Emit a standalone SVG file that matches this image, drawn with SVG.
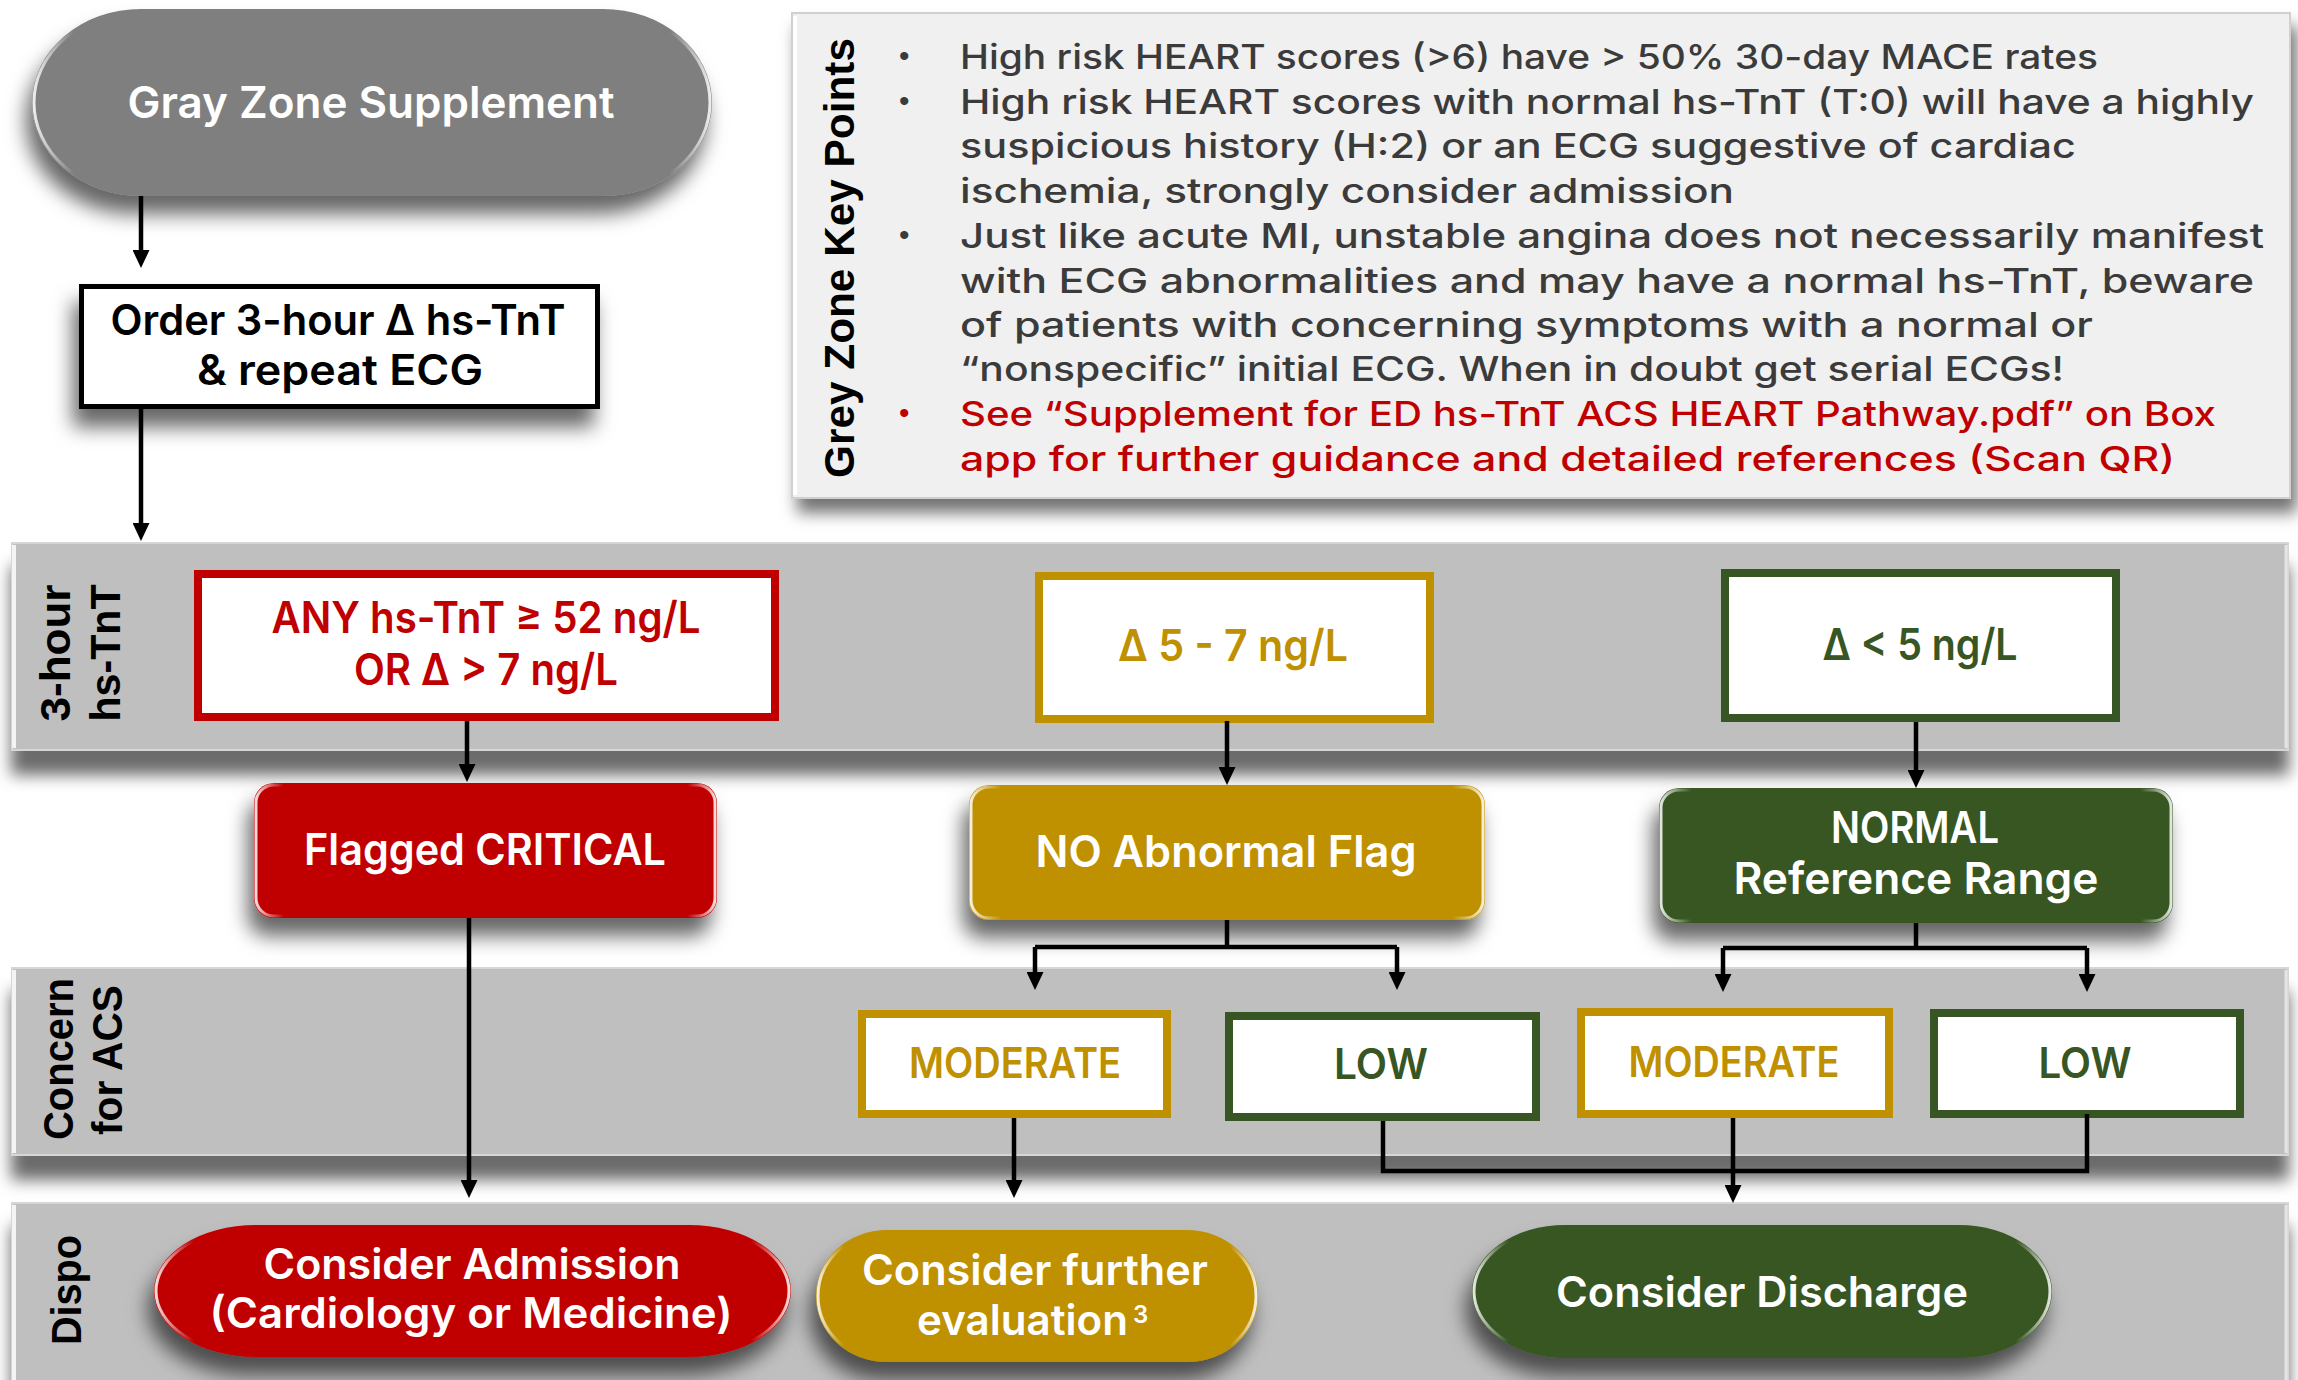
<svg xmlns="http://www.w3.org/2000/svg" width="2298" height="1380" viewBox="0 0 2298 1380">
<style>
.lbl{font-family:Inter,"Open Sans","Liberation Sans",sans-serif;font-weight:600;text-anchor:middle}
.w{fill:#ffffff}
.tr{fill:#c00000}
.tg{fill:#bf9000}
.tn{fill:#375623}
.tk{fill:#000000}
.side{font-family:"Liberation Sans",Arial,sans-serif;font-weight:700;font-size:42px;fill:#000;text-anchor:middle}
.bul{font-family:Inter,"Open Sans","Liberation Sans",sans-serif;font-size:34px;font-weight:500;fill:#3b3b3b}
.bulr{font-family:Inter,"Open Sans","Liberation Sans",sans-serif;font-size:34px;font-weight:500;fill:#c00000}
.dot{font-family:"Liberation Sans",Arial,sans-serif;font-size:30px}
.band{fill:#bfbfbf;stroke:#d6d6d6;stroke-width:2}
.bx{fill:#ffffff;stroke-width:8}
.conn{fill:none;stroke:#000;stroke-width:4.5}
</style>
<defs>
<filter id="bandsh" x="-5%" y="-20%" width="110%" height="160%">
<feDropShadow dx="0" dy="24" stdDeviation="8" flood-color="#000" flood-opacity="0.58"/>
</filter>
<filter id="sh" x="-20%" y="-30%" width="140%" height="170%">
<feDropShadow dx="-6" dy="18" stdDeviation="10" flood-color="#000" flood-opacity="0.6"/>
</filter>
<filter id="shk" x="-5%" y="-10%" width="112%" height="125%">
<feDropShadow dx="6" dy="14" stdDeviation="8" flood-color="#000" flood-opacity="0.55"/>
</filter>
<linearGradient id="rim" x1="0" y1="0" x2="1" y2="0">
<stop offset="0" stop-color="#fff" stop-opacity="0.85"/>
<stop offset="0.06" stop-color="#fff" stop-opacity="0"/>
<stop offset="0.94" stop-color="#fff" stop-opacity="0"/>
<stop offset="1" stop-color="#fff" stop-opacity="0.85"/>
</linearGradient>
<marker id="ah" markerUnits="userSpaceOnUse" markerWidth="18" markerHeight="17" refX="8" refY="8.5" orient="auto">
<path d="M0,0 L18,8.5 L0,17 z" fill="#000"/>
</marker>
</defs>

<rect width="2298" height="1380" fill="#ffffff"/>

<g id="bands">
<rect class="band" x="12" y="543" width="2276" height="207" filter="url(#bandsh)"/>
<rect class="band" x="12" y="968" width="2276" height="187" filter="url(#bandsh)"/>
<rect class="band" x="12" y="1203" width="2276" height="200" filter="url(#bandsh)"/>
<path d="M14,545 V748 M14,970 V1153 M14,1205 V1380" stroke="#f4f4f4" stroke-width="4"/>
<path d="M2286,545 V748 M2286,970 V1153 M2286,1205 V1380" stroke="#e4e4e4" stroke-width="3"/>
</g>

<g id="band-labels">
<text class="side" transform="translate(70,653) rotate(-90)" textLength="137" lengthAdjust="spacingAndGlyphs">3-hour</text>
<text class="side" transform="translate(120,653) rotate(-90)" textLength="137" lengthAdjust="spacingAndGlyphs">hs-TnT</text>
<text class="side" transform="translate(73,1059) rotate(-90)" textLength="162" lengthAdjust="spacingAndGlyphs">Concern</text>
<text class="side" transform="translate(122,1060) rotate(-90)" textLength="150" lengthAdjust="spacingAndGlyphs">for ACS</text>
<text class="side" transform="translate(81,1290) rotate(-90)" textLength="110" lengthAdjust="spacingAndGlyphs">Dispo</text>
</g>

<g id="gray-zone-supplement">
<rect x="32" y="9" width="680" height="187" rx="109" ry="93.5" fill="#7f7f7f" filter="url(#sh)"/>
<rect x="34" y="11" width="676" height="183" rx="107" ry="91.5" fill="none" stroke="url(#rim)" stroke-width="3"/>
<text class="lbl w" x="371" y="118" font-size="44" textLength="487" lengthAdjust="spacingAndGlyphs">Gray Zone Supplement</text>
</g>

<g id="order-box">
<rect x="81.5" y="286.5" width="516" height="120" fill="#fff" stroke="#000" stroke-width="5" filter="url(#sh)"/>
<text class="lbl tk" x="338" y="335" font-size="42" textLength="455" lengthAdjust="spacingAndGlyphs">Order 3-hour Δ hs-TnT</text>
<text class="lbl tk" x="340" y="385" font-size="42" textLength="286" lengthAdjust="spacingAndGlyphs">&amp; repeat ECG</text>
</g>

<g id="key-points">
<rect x="792" y="13" width="1498" height="485" fill="#f0f0f0" stroke="#d0d0d0" stroke-width="2" filter="url(#shk)"/>
<path d="M795,16 V495" stroke="#ffffff" stroke-width="4"/>
<text class="side" transform="translate(854,258) rotate(-90)" textLength="440" lengthAdjust="spacingAndGlyphs">Grey Zone Key Points</text>
<text class="dot" x="899" y="66" fill="#3b3b3b">•</text>
<text class="bul" x="960" y="69" textLength="1138" lengthAdjust="spacingAndGlyphs">High risk HEART scores (&gt;6) have &gt; 50% 30-day MACE rates</text>
<text class="dot" x="899" y="111" fill="#3b3b3b">•</text>
<text class="bul" x="960" y="114" textLength="1294" lengthAdjust="spacingAndGlyphs">High risk HEART scores with normal hs-TnT (T:0) will have a highly</text>
<text class="bul" x="960" y="158" textLength="1116" lengthAdjust="spacingAndGlyphs">suspicious history (H:2) or an ECG suggestive of cardiac</text>
<text class="bul" x="960" y="203" textLength="774" lengthAdjust="spacingAndGlyphs">ischemia, strongly consider admission</text>
<text class="dot" x="899" y="245" fill="#3b3b3b">•</text>
<text class="bul" x="960" y="248" textLength="1304" lengthAdjust="spacingAndGlyphs">Just like acute MI, unstable angina does not necessarily manifest</text>
<text class="bul" x="960" y="293" textLength="1294" lengthAdjust="spacingAndGlyphs">with ECG abnormalities and may have a normal hs-TnT, beware</text>
<text class="bul" x="960" y="337" textLength="1133" lengthAdjust="spacingAndGlyphs">of patients with concerning symptoms with a normal or</text>
<text class="bul" x="960" y="381" textLength="1104" lengthAdjust="spacingAndGlyphs">“nonspecific” initial ECG. When in doubt get serial ECGs!</text>
<text class="dot" x="899" y="423" fill="#c00000">•</text>
<text class="bulr" x="960" y="426" textLength="1256" lengthAdjust="spacingAndGlyphs">See “Supplement for ED hs-TnT ACS HEART Pathway.pdf” on Box</text>
<text class="bulr" x="960" y="471" textLength="1215" lengthAdjust="spacingAndGlyphs">app for further guidance and detailed references (Scan QR)</text>
</g>

<g id="high-tnt">
<rect class="bx" x="198" y="574" width="577" height="143" stroke="#c00000"/>
<text class="lbl tr" x="486" y="633" font-size="44" textLength="429" lengthAdjust="spacingAndGlyphs">ANY hs-TnT ≥ 52 ng/L</text>
<text class="lbl tr" x="486" y="685" font-size="44" textLength="264" lengthAdjust="spacingAndGlyphs">OR Δ &gt; 7 ng/L</text>
</g>

<g id="mid-tnt">
<rect class="bx" x="1039" y="576" width="391" height="143" stroke="#bf9000"/>
<text class="lbl tg" x="1233" y="661" font-size="44" textLength="230" lengthAdjust="spacingAndGlyphs">Δ 5 - 7 ng/L</text>
</g>

<g id="low-tnt">
<rect class="bx" x="1725" y="573" width="391" height="145" stroke="#375623"/>
<text class="lbl tn" x="1920" y="660" font-size="44" textLength="195" lengthAdjust="spacingAndGlyphs">Δ &lt; 5 ng/L</text>
</g>

<g id="flagged-critical">
<rect x="254" y="783" width="463" height="135" rx="20" fill="#c00000" filter="url(#sh)"/>
<rect x="256" y="785" width="459" height="131" rx="18" fill="none" stroke="url(#rim)" stroke-width="3"/>
<text class="lbl w" x="485" y="865" font-size="44" textLength="362" lengthAdjust="spacingAndGlyphs">Flagged CRITICAL</text>
</g>

<g id="no-abnormal-flag">
<rect x="969" y="785" width="516" height="135" rx="20" fill="#bf9000" filter="url(#sh)"/>
<rect x="971" y="787" width="512" height="131" rx="18" fill="none" stroke="url(#rim)" stroke-width="3"/>
<text class="lbl w" x="1226" y="867" font-size="44" textLength="381" lengthAdjust="spacingAndGlyphs">NO Abnormal Flag</text>
</g>

<g id="normal-range">
<rect x="1659" y="788" width="514" height="135" rx="20" fill="#375623" filter="url(#sh)"/>
<rect x="1661" y="790" width="510" height="131" rx="18" fill="none" stroke="url(#rim)" stroke-width="3"/>
<text class="lbl w" x="1915" y="843" font-size="44" textLength="168" lengthAdjust="spacingAndGlyphs">NORMAL</text>
<text class="lbl w" x="1916" y="894" font-size="44" textLength="365" lengthAdjust="spacingAndGlyphs">Reference Range</text>
</g>

<g id="moderate-1">
<rect class="bx" x="862" y="1014" width="305" height="100" stroke="#bf9000"/>
<text class="lbl tg" x="1015" y="1078" font-size="42" textLength="212" lengthAdjust="spacingAndGlyphs">MODERATE</text>
</g>

<g id="low-1">
<rect class="bx" x="1229" y="1016" width="307" height="101" stroke="#375623"/>
<text class="lbl tn" x="1381" y="1079" font-size="42" textLength="94" lengthAdjust="spacingAndGlyphs">LOW</text>
</g>

<g id="moderate-2">
<rect class="bx" x="1581" y="1012" width="308" height="102" stroke="#bf9000"/>
<text class="lbl tg" x="1734" y="1077" font-size="42" textLength="211" lengthAdjust="spacingAndGlyphs">MODERATE</text>
</g>

<g id="low-2">
<rect class="bx" x="1934" y="1013" width="306" height="101" stroke="#375623"/>
<text class="lbl tn" x="2085" y="1078" font-size="42" textLength="93" lengthAdjust="spacingAndGlyphs">LOW</text>
</g>

<g id="consider-admission">
<rect x="154" y="1225" width="637" height="132" rx="102" ry="66" fill="#c00000" filter="url(#sh)"/>
<rect x="156" y="1227" width="633" height="128" rx="100" ry="64" fill="none" stroke="url(#rim)" stroke-width="3"/>
<text class="lbl w" x="472" y="1279" font-size="42" textLength="417" lengthAdjust="spacingAndGlyphs">Consider Admission</text>
<text class="lbl w" x="471" y="1328" font-size="42" textLength="523" lengthAdjust="spacingAndGlyphs">(Cardiology or Medicine)</text>
</g>

<g id="consider-further">
<rect x="816" y="1230" width="442" height="132" rx="71" ry="66" fill="#bf9000" filter="url(#sh)"/>
<rect x="818" y="1232" width="438" height="128" rx="69" ry="64" fill="none" stroke="url(#rim)" stroke-width="3"/>
<text class="lbl w" x="1035" y="1285" font-size="42" textLength="346" lengthAdjust="spacingAndGlyphs">Consider further</text>
<text class="lbl w" x="917" y="1335" font-size="42" style="text-anchor:start" textLength="211" lengthAdjust="spacingAndGlyphs">evaluation</text>
<text class="lbl w" x="1133" y="1323" font-size="24" style="text-anchor:start">3</text>
</g>

<g id="consider-discharge">
<rect x="1472" y="1225" width="580" height="133" rx="93" ry="66.5" fill="#375623" filter="url(#sh)"/>
<rect x="1474" y="1227" width="576" height="129" rx="91" ry="64.5" fill="none" stroke="url(#rim)" stroke-width="3"/>
<text class="lbl w" x="1762" y="1307" font-size="42" textLength="412" lengthAdjust="spacingAndGlyphs">Consider Discharge</text>
</g>

<g id="connectors">
<path class="conn" d="M141,196 V258" marker-end="url(#ah)"/>
<path class="conn" d="M141,409 V531" marker-end="url(#ah)"/>
<path class="conn" d="M467,721 V772" marker-end="url(#ah)"/>
<path class="conn" d="M1227,721 V775" marker-end="url(#ah)"/>
<path class="conn" d="M1916,722 V778" marker-end="url(#ah)"/>
<path class="conn" d="M1227,920 V947"/>
<path class="conn" d="M1035,947 H1397"/>
<path class="conn" d="M1035,947 V980" marker-end="url(#ah)"/>
<path class="conn" d="M1397,947 V980" marker-end="url(#ah)"/>
<path class="conn" d="M1916,923 V948"/>
<path class="conn" d="M1723,948 H2087"/>
<path class="conn" d="M1723,948 V982" marker-end="url(#ah)"/>
<path class="conn" d="M2087,948 V982" marker-end="url(#ah)"/>
<path class="conn" d="M469,918 V1188" marker-end="url(#ah)"/>
<path class="conn" d="M1014,1118 V1188" marker-end="url(#ah)"/>
<path class="conn" d="M1383,1121 V1171 H2087 V1114"/>
<path class="conn" d="M1733,1118 V1193" marker-end="url(#ah)"/>
</g>
</svg>
